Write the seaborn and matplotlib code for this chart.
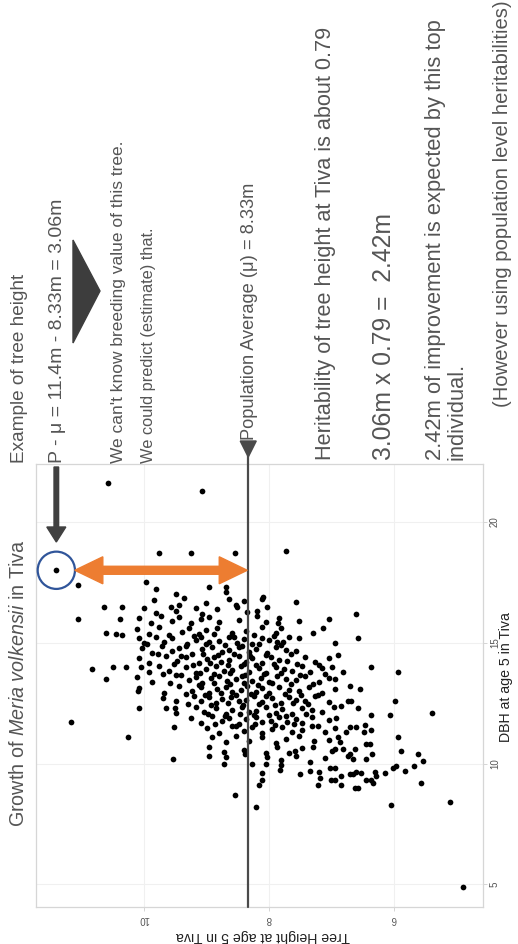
import matplotlib
matplotlib.use("Agg")
import matplotlib.pyplot as plt
import numpy as np
import pandas as pd
import seaborn as sns
from matplotlib.patches import Polygon

sns.set_theme(style="white")
plt.rcParams["font.family"] = ["Liberation Sans", "DejaVu Sans"]
plt.rcParams["mathtext.fontset"] = "custom"
plt.rcParams["mathtext.rm"] = "Liberation Sans"
plt.rcParams["mathtext.it"] = "Liberation Sans:italic"

# ---------------------------------------------------------------- data
# Tree height (m) and DBH (cm) at age 5, Meria volkensii, Tiva trial.
# Sparse trees around the edge of the cloud
edge_height = [10.57, 9.07, 11.40, 9.76, 9.24, 8.54, 7.72, 11.06, 9.96, 8.96,
               8.69, 10.64, 10.35, 11.05, 10.38, 10.60, 10.44, 10.35, 10.83, 10.49,
               10.28, 10.61, 10.09, 11.16, 10.26, 10.08, 9.70, 9.48, 9.64, 9.50,
               9.52, 9.53, 8.96, 8.72, 8.54, 8.38, 8.27, 8.20, 8.16, 8.11,
               8.04, 7.82, 7.80, 7.58, 7.50, 7.34, 7.29, 7.21, 7.18, 7.02, 7.00,
               7.56, 8.09, 7.52, 7.29, 7.13, 7.04, 7.52, 7.86, 7.81, 7.89, 7.77,
               6.60, 6.57, 6.90, 6.36, 5.93, 6.81, 6.70, 6.54, 6.94, 6.94,
               4.90, 5.10, 6.05, 5.57, 5.39, 5.99, 6.06, 6.37, 5.93, 5.88,
               5.62, 5.53, 5.68, 5.82, 5.96, 6.01, 6.14, 6.28, 6.36, 6.33,
               6.44, 6.30, 6.62, 6.57, 6.52, 6.60, 6.65, 6.70, 6.84, 6.84,
               6.94, 6.94, 6.73, 6.70, 6.62, 6.65, 6.44, 6.35, 6.45, 6.38,
               6.89, 6.86, 6.81, 6.94, 6.76, 6.70, 6.61, 6.48, 6.46, 6.37,
               6.84, 6.73, 6.68, 6.57, 6.92]
edge_dbh = [21.6, 21.3, 18.0, 18.7, 18.7, 18.7, 18.8, 17.4, 17.5, 17.3,
            17.1, 16.5, 16.5, 16.0, 16.0, 15.4, 15.37, 15.3, 13.9, 14.0,
            14.0, 13.5, 13.0, 11.7, 11.1, 12.3, 12.7, 12.6, 12.3, 12.3,
            11.5, 10.2, 10.3, 10.0, 8.7, 10.4, 10.0, 8.2, 9.1, 9.3,
            10.0, 9.75, 9.95, 10.5, 9.55, 9.7, 10.7, 9.1, 9.4, 9.8, 9.3,
            16.7, 16.9, 15.9, 15.4, 15.6, 16.0, 15.2, 15.8, 15.6, 15.4, 15.05,
            16.2, 15.2, 14.5, 14.0, 13.8, 13.8, 13.2, 13.1, 13.5, 13.1,
            4.9, 8.4, 8.3, 9.2, 12.1, 12.6, 12.0, 12.0, 11.1, 10.5,
            10.4, 10.1, 9.9, 9.7, 9.9, 9.8, 9.6, 9.5, 9.3, 9.2,
            9.3, 9.65, 9.0, 9.0, 9.6, 9.65, 9.55, 9.55, 9.1, 9.5,
            9.3, 9.8, 10.3, 10.4, 10.6, 10.2, 10.2, 10.4, 10.8, 10.8,
            11.1, 10.9, 10.6, 10.6, 11.3, 11.5, 11.5, 11.3, 11.6, 11.4,
            12.4, 12.6, 12.6, 12.3, 11.9]

# Main body of the cloud
core_height = [9.81, 9.49, 8.69,
               9.84, 9.44, 9.36, 9.01, 8.64, 8.53, 8.40, 8.11,
               10.00, 9.81, 9.57, 9.49, 9.17, 9.07, 8.83, 8.51, 8.35, 8.19, 8.03,
               10.08, 9.89, 9.73, 9.55, 9.44, 9.25, 9.09, 8.96, 8.80, 8.48, 8.19, 8.05, 7.84,
               10.11, 9.92, 9.76, 9.39, 9.28, 9.12, 9.01, 8.83, 8.59, 8.37, 8.11,
               10.08, 10.00, 9.81, 9.68, 9.55, 9.31, 9.17, 9.09, 8.96, 8.80, 8.64, 8.51, 8.40,
               8.27, 8.11, 8.00, 7.87, 7.68, 6.94,
               10.03, 9.87, 9.71, 9.55, 9.44, 9.23, 9.07, 8.91, 8.75, 8.64, 8.48, 8.32, 8.21,
               8.03, 7.89, 7.73, 7.57,
               10.08, 9.92, 9.65, 9.47, 9.33, 9.12, 8.99, 8.88, 8.77, 8.64, 8.48, 8.37, 8.27,
               8.11, 7.97, 7.84, 7.71, 7.42, 7.26, 7.04,
               10.05, 9.92, 9.76, 9.60, 9.33, 9.17, 9.01, 8.85, 8.72, 8.59, 8.45, 8.32, 8.16,
               8.05, 7.89, 7.76, 7.63, 7.47, 7.34, 7.15, 6.99,
               10.11, 9.87, 9.49, 9.28, 9.17, 9.07, 8.93, 8.80, 8.67, 8.53, 8.43, 8.27, 8.13,
               8.00, 7.87, 7.73, 7.57, 7.42, 7.20, 7.04,
               10.08, 9.68, 9.44, 9.23, 9.09, 8.96, 8.83, 8.69, 8.59, 8.45, 8.35, 8.21, 8.11,
               8.00, 7.84, 7.68, 7.52, 7.36, 7.15,
               9.20, 9.09, 8.96, 8.85, 8.75, 8.61, 8.48, 8.37, 8.24, 8.11, 7.95, 7.81, 7.68,
               7.57, 7.42, 7.26, 7.04,
               9.49, 9.17, 9.04, 8.85, 8.69, 8.59, 8.43, 8.32, 8.21, 8.05, 7.89, 7.79, 7.63,
               7.47, 7.31, 7.15, 6.96,
               9.25, 9.09, 8.91, 8.75, 8.64, 8.48, 8.37, 8.21, 8.11, 7.97, 7.84, 7.71, 7.57,
               7.47, 7.31, 7.04,
               8.99, 8.80, 8.59, 8.40, 8.27, 8.11, 7.95, 7.79, 7.63, 7.47, 7.31, 7.10, 6.94,
               8.91, 8.69, 8.53, 8.32, 8.11, 7.89, 7.73, 7.52, 7.28, 7.04,
               8.96, 8.72, 8.40, 8.05, 7.87, 7.68, 7.47, 6.99,
               8.69, 8.03, 7.81, 7.57, 7.34, 7.10,
               8.11, 7.20]
core_dbh = [17.23, 17.03, 17.30,
            16.78, 16.58, 16.85, 16.65, 16.80, 16.55, 16.73, 16.82,
            16.43, 16.23, 16.50, 16.30, 16.45, 16.20, 16.38, 16.47, 16.27, 16.33, 16.49,
            16.03, 15.83, 16.10, 15.90, 16.05, 15.80, 15.98, 16.07, 15.87, 15.93, 16.09, 15.85, 16.01,
            15.58, 15.38, 15.65, 15.45, 15.60, 15.35, 15.53, 15.62, 15.42, 15.48, 15.64,
            15.18, 14.98, 15.25, 15.05, 15.20, 14.95, 15.13, 15.22, 15.02, 15.08, 15.24, 15.00, 15.16,
            14.96, 15.21, 15.10, 15.04, 15.23, 14.99,
            14.78, 14.58, 14.85, 14.65, 14.80, 14.55, 14.73, 14.82, 14.62, 14.68, 14.84, 14.60, 14.76,
            14.56, 14.81, 14.70, 14.64,
            14.38, 14.18, 14.45, 14.25, 14.40, 14.15, 14.33, 14.42, 14.22, 14.28, 14.44, 14.20, 14.36,
            14.16, 14.41, 14.30, 14.24, 14.43, 14.19, 14.35,
            13.98, 13.78, 14.05, 13.85, 14.00, 13.75, 13.93, 14.02, 13.82, 13.88, 14.04, 13.80, 13.96,
            13.76, 14.01, 13.90, 13.84, 14.03, 13.79, 13.95, 13.99,
            13.58, 13.38, 13.65, 13.45, 13.60, 13.35, 13.53, 13.62, 13.42, 13.48, 13.64, 13.40, 13.56,
            13.36, 13.61, 13.50, 13.44, 13.63, 13.39, 13.55,
            13.13, 12.93, 13.20, 13.00, 13.15, 12.90, 13.08, 13.17, 12.97, 13.03, 13.19, 12.95, 13.11,
            12.91, 13.16, 13.05, 12.99, 13.18, 12.94,
            12.80, 12.60, 12.75, 12.50, 12.68, 12.77, 12.57, 12.63, 12.79, 12.55, 12.71, 12.51, 12.76,
            12.65, 12.59, 12.78, 12.54,
            12.08, 12.35, 12.15, 12.30, 12.05, 12.23, 12.32, 12.12, 12.18, 12.34, 12.10, 12.26, 12.06,
            12.31, 12.20, 12.14, 12.33,
            11.88, 11.68, 11.95, 11.75, 11.90, 11.65, 11.83, 11.92, 11.72, 11.78, 11.94, 11.70, 11.86,
            11.66, 11.91, 11.80,
            11.48, 11.28, 11.55, 11.35, 11.50, 11.25, 11.43, 11.52, 11.32, 11.38, 11.54, 11.30, 11.46,
            11.08, 10.88, 11.15, 10.95, 11.10, 10.85, 11.03, 11.12, 10.92, 10.98,
            10.68, 10.48, 10.55, 10.45, 10.70, 10.45, 10.63, 10.52,
            10.28, 10.25, 10.15, 10.30, 10.05, 10.23,
            9.62, 9.65]

# Densest centre of the cloud
centre_height = [9.60, 9.20, 8.88, 8.56, 8.24, 7.92,
                 9.95, 9.33, 9.00, 8.70, 8.43, 8.16, 7.80,
                 9.78, 9.40, 9.05, 8.82, 8.56, 8.30, 8.05, 7.65,
                 9.52, 9.22, 8.94, 8.66, 8.40, 8.20, 7.92, 7.55, 7.20,
                 9.70, 9.40, 9.10, 8.88, 8.62, 8.38, 8.08, 7.80, 7.50, 7.10,
                 9.58, 9.12, 8.88, 8.62, 8.40, 8.18, 7.95, 7.64, 7.30,
                 9.32, 9.02, 8.76, 8.52, 8.28, 8.05, 7.75, 7.48, 7.22,
                 9.30, 8.92, 8.66, 8.42, 8.16, 7.90, 7.62, 7.38,
                 8.98, 8.70, 8.46, 8.24, 8.00, 7.72, 7.40,
                 8.86, 8.52, 8.22, 7.90, 7.60, 7.22]
centre_dbh = [15.33, 15.27, 15.36, 15.24, 15.31, 15.28,
              14.93, 14.87, 14.95, 14.90, 14.86, 14.94, 14.89,
              14.52, 14.47, 14.55, 14.49, 14.53, 14.46, 14.51, 14.54,
              14.13, 14.07, 14.15, 14.09, 14.12, 14.06, 14.14, 14.10, 14.08,
              13.72, 13.66, 13.75, 13.69, 13.73, 13.65, 13.71, 13.74, 13.67, 13.70,
              13.33, 13.27, 13.35, 13.29, 13.32, 13.26, 13.34, 13.30, 13.28,
              12.88, 12.82, 12.90, 12.84, 12.87, 12.81, 12.89, 12.85, 12.83,
              12.48, 12.42, 12.50, 12.44, 12.47, 12.41, 12.49, 12.45,
              12.03, 11.97, 12.05, 11.99, 12.02, 11.96, 12.04,
              11.63, 11.57, 11.65, 11.59, 11.62, 11.56]

population_mean = 8.33          # m
height_ticks = [6, 8, 10]
dbh_ticks = [5, 10, 15, 20]

trees = pd.DataFrame({
    "height": edge_height + core_height + centre_height,
    "dbh": edge_dbh + core_dbh + centre_dbh,
})
top_tree = trees.loc[trees["height"].idxmax()]

# ---------------------------------------------------------------- figure
W, H = 518, 944
fig = plt.figure(figsize=(W / 100, H / 100), dpi=100)
fig.patch.set_facecolor("white")


def fpt(x, y):
    """pixel position measured from the top-left corner -> figure fraction"""
    return x / W, 1 - y / H


def to_px(ax, hx, dy):
    """data point -> pixel position measured from the top-left corner"""
    X, Y = ax.transData.transform((hx, dy))
    return X, H - Y


# The slide is turned a quarter turn: height runs across, DBH runs up.
ax = fig.add_axes([36 / W, 1 - 907 / H, 447 / W, 443 / H])
sns.scatterplot(data=trees, x="height", y="dbh", color="black", s=17,
                linewidth=0, ax=ax, legend=False, zorder=3)
ax.set_xlim(11.725, 4.575)
ax.set_ylim(4.06, 22.4)
ax.set_xticks(height_ticks)
ax.set_yticks(dbh_ticks)
ax.yaxis.tick_right()
ax.grid(True, color="#f0f0f0", lw=0.8, zorder=0)
for sp in ax.spines.values():
    sp.set_color("#d6d6d6")
    sp.set_linewidth(0.9)
ax.tick_params(axis="both", length=3, width=0.6, color="#cfcfcf",
               labelsize=7, labelcolor="#555555", pad=2)
ax.tick_params(axis="x", labelrotation=180, bottom=True)
ax.tick_params(axis="y", labelrotation=90, right=True, left=False)
for lab in ax.get_yticklabels():
    lab.set_va("center")
ax.set_xlabel("")
ax.set_ylabel("")

fig.text(*fpt(263, 936), "Tree Height at age 5 in Tiva", rotation=180,
         ha="center", va="center", fontsize=10.2, color="#222222")
fig.text(*fpt(506, 677), "DBH at age 5 in Tiva", rotation=90,
         ha="center", va="center", fontsize=10.2, color="#222222")

# population mean line with arrow tip above the panel
mx, _ = to_px(ax, population_mean, 10)
ax.axvline(population_mean, ymin=0, ymax=1.02, color="#4a4a4a", lw=1.6,
           clip_on=False, zorder=4)
fig.patches.append(Polygon([fpt(mx - 8, 441), fpt(mx + 8, 441), fpt(mx, 457)],
                           closed=True, transform=fig.transFigure,
                           color="#4a4a4a", zorder=5))

# highlighted top tree
tx, ty = to_px(ax, top_tree["height"], top_tree["dbh"])
ax.scatter([top_tree["height"]], [top_tree["dbh"]], s=720, facecolors="none",
           edgecolors="#30559a", linewidths=1.6, zorder=5)

# dark arrow pointing at it
aw, sw = 9.5, 2.3
down = [(tx - sw, 467), (tx + sw, 467), (tx + sw, 527), (tx + aw, 527),
        (tx, 542), (tx - aw, 527), (tx - sw, 527)]
fig.patches.append(Polygon([fpt(*p) for p in down], closed=True,
                           transform=fig.transFigure, color="#404040", zorder=6))

# orange double arrow between the tree and the mean
lx, rx = tx + 18.5, mx - 1
hh, sh, hl = 13.5, 4.0, 28
dbl = [(lx, ty), (lx + hl, ty - hh), (lx + hl, ty - sh), (rx - hl, ty - sh),
       (rx - hl, ty - hh), (rx, ty), (rx - hl, ty + hh), (rx - hl, ty + sh),
       (lx + hl, ty + sh), (lx + hl, ty + hh)]
fig.patches.append(Polygon([fpt(*p) for p in dbl], closed=True,
                           transform=fig.transFigure, color="#ed7d31", zorder=6))

# big pointer triangle
fig.patches.append(Polygon([fpt(73, 240), fpt(73, 343), fpt(100, 291)],
                           closed=True, transform=fig.transFigure,
                           color="#3d3d3d", zorder=6))

# ---------------------------------------------------------------- slide text
renderer = fig.canvas.get_renderer()


def side_text(s, x, y0, y1=None, size=None, color="#555555"):
    """text reading upward from y0 (pixels from top), centred on x;
    either stretched to end at y1 or drawn at a given size"""
    t = fig.text(*fpt(x, y0), s, rotation=90, rotation_mode="anchor",
                 ha="left", va="center", fontsize=size or 12, color=color)
    if size is None:
        length = t.get_window_extent(renderer).height
        t.set_fontsize(12 * (y0 - y1) / length)
    return t


side_text(r"Growth of $\it{Meria\ volkensii}$ in Tiva", 18, 827, 540)
side_text("Example of tree height", 19, 463, 272)
side_text("P - μ = 11.4m - 8.33m = 3.06m", 57, 463, 200)
side_text("We can't know breeding value of this tree.", 118, 463, 140)
side_text("We could predict (estimate) that.", 148, 463, 227)
side_text("Population Average (μ) = 8.33m", mx + 1, 440, 182)
side_text("Heritability of tree height at Tiva is about 0.79", 325, 460, 27)
side_text("3.06m x 0.79 =  2.42m", 384, 460, 213)
t242 = side_text("2.42m of improvement is expected by this top", 435, 460, 20)
side_text("individual.", 457, 460, size=t242.get_fontsize())
side_text("(However using population level heritabilities)", 503, 407, -2)

fig.savefig("out.png", dpi=100, facecolor="white")
